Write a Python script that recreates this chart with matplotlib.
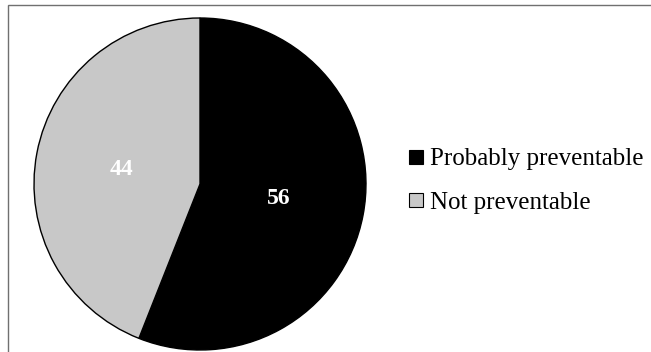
import matplotlib.pyplot as plt
from matplotlib.lines import Line2D
from matplotlib.patches import Rectangle

# Data
categories = ['Probably preventable', 'Not preventable']
values = [56, 44]
colors = ['#000000', '#c8c8c8']

plt.rcParams['font.family'] = ['Liberation Serif', 'DejaVu Serif']

fig = plt.figure(figsize=(6.51, 3.52), dpi=100)

# outer frame (top/left visible, right/bottom run off the image)
fig.add_artist(Rectangle((8 / 651, -0.01), 1.0, (352 - 5) / 352 + 0.01,
                         transform=fig.transFigure, fill=False,
                         edgecolor='#707070', linewidth=1.0))

ax = fig.add_axes([34 / 651, (352 - 350) / 352, 332 / 651, 332 / 352])
wedges, texts, autotexts = ax.pie(
    values, colors=colors, startangle=90, counterclock=False,
    autopct=lambda p: '{:.0f}'.format(p), pctdistance=0.48,
    wedgeprops=dict(edgecolor='black', linewidth=1.0),
    textprops=dict(color='white', fontsize=17, fontweight='bold'))
ax.set_xlim(-1, 1)
ax.set_ylim(-1, 1)
ax.set_aspect('equal')

handles = [Line2D([], [], marker='s', linestyle='none', markersize=10,
                  markerfacecolor=c, markeredgecolor='black', markeredgewidth=0.8)
           for c in colors]
fig.legend(handles, categories, loc='center left', bbox_to_anchor=(398 / 651, (352 - 181) / 352),
           frameon=False, fontsize=18, handlelength=0.6, handletextpad=0.3,
           labelspacing=0.85, borderaxespad=0)

fig.savefig('out.png', dpi=100)
